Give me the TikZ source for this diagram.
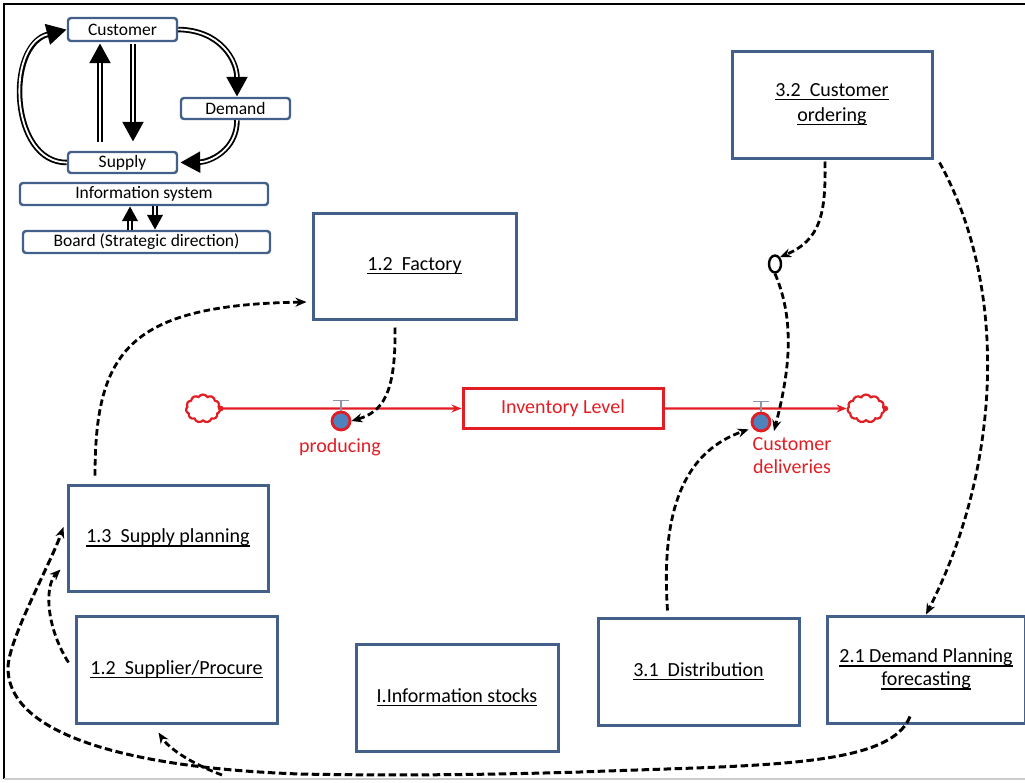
\documentclass[tikz,border=0pt]{standalone}
\usepackage{fontspec}
\setmainfont{Carlito}
\usetikzlibrary{arrows.meta,shapes.symbols,shapes.geometric}
\definecolor{boxblue}{RGB}{66,96,138}
\definecolor{sdred}{RGB}{226,30,36}
\definecolor{valveblue}{RGB}{79,129,189}
\definecolor{tgray}{RGB}{140,150,165}
\newcommand\myul[1]{\leavevmode\setbox0=\hbox{#1}\rlap{\rule[-4pt]{\wd0}{1.7pt}}\box0}
\newcommand\dblarr[2][20]{%
  \draw[line width=5.5pt,-{Triangle[length=#1pt,width=#1pt]}] #2;
  \draw[white,line width=1.8pt,shorten >=#1pt] #2;}
\begin{document}
\begin{tikzpicture}[x=1pt,y=-1pt,
  box/.style={draw=boxblue,line width=3pt,inner sep=0pt,align=center,
    font=\fontsize{20}{24}\selectfont},
  sbox/.style={draw=boxblue,line width=2.4pt,rounded corners=3pt,inner sep=0pt,
    font=\fontsize{17.5}{20}\selectfont},
  dep/.style={line width=2.8pt,dash pattern=on 6.5pt off 3.5pt,
    -{Stealth[length=11pt,width=9pt]}},
  flow/.style={sdred,line width=2.4pt,-{Stealth[length=10pt,width=8pt]}},
  valve/.style={circle,draw=sdred,fill=valveblue,line width=2.8pt,
    minimum size=18pt,inner sep=0pt},
  cloudy/.style={cloud,cloud puffs=11,cloud puff arc=120,aspect=1.25,draw=sdred,
    line width=2.2pt,inner sep=0pt,minimum height=28pt},
  redtext/.style={text=sdred,font=\fontsize{20}{23}\selectfont,align=center,inner sep=0pt}]
\useasboundingbox (0,0) rectangle (1025,782);
\fill[white] (0,0) rectangle (1025,782);
% frame
\draw[black,line width=1.8pt] (1030,4) -- (4,4) -- (4,779);
\draw[gray!40,line width=1.8pt] (4,779) -- (1030,779);

% ---------- small overview diagram ----------
\node[sbox,minimum width=109pt,minimum height=23pt] (cust) at (122.5,29.5) {Customer};
\node[sbox,minimum width=109pt,minimum height=21pt] (dem) at (235.5,108.5) {Demand};
\node[sbox,minimum width=109pt,minimum height=21pt] (sup) at (122.5,162.5) {Supply};
\node[sbox,minimum width=248pt,minimum height=22pt] (isys) at (144,194) {Information system};
\node[sbox,minimum width=247pt,minimum height=22pt] (board) at (146.5,242) {Board (Strategic direction)};

\dblarr{([xshift=-22.5pt,yshift=9pt]sup.north) -- ([xshift=-22.5pt,yshift=-1pt]cust.south)}
\dblarr{([xshift=10.5pt,yshift=-2pt]cust.south) -- ([xshift=10.5pt,yshift=9pt]sup.north)}
\dblarr{(sup.west) .. controls (10,163) and (5,45) .. (cust.west)}
\dblarr{(cust.east) .. controls (220,30) and (237,60) .. ([xshift=1.5pt]dem.north)}
\dblarr{([xshift=1.5pt]dem.south) .. controls (237,150) and (210,162) .. ([xshift=2pt]sup.east)}
\dblarr[15]{([xshift=-16.5pt]board.north) -- ([xshift=-14pt]isys.south)}
\dblarr[15]{([xshift=11pt]isys.south) -- ([xshift=8.5pt]board.north)}

% ---------- main boxes ----------
\node[box,minimum width=200pt,minimum height=107pt,font=\fontsize{20}{25}\selectfont] (c32) at (832,104.5)
  {\myul{3.2\ \ Customer}\\\myul{ordering}};
\node[box,minimum width=203pt,minimum height=106pt] (fac) at (414.5,266) {\myul{1.2\ \ Factory}};
\node[box,minimum width=200pt,minimum height=106pt] (sp13) at (168,538) {\myul{1.3\ \ Supply planning}};
\node[box,minimum width=201pt,minimum height=107pt] (sup12) at (176.5,669.5) {\myul{1.2\ \ Supplier/Procure}};
\node[box,minimum width=202pt,minimum height=107pt] (istock) at (457,697.5) {\myul{I.Information stocks}};
\node[box,minimum width=201pt,minimum height=107pt] (dist) at (698.5,671.5) {\myul{3.1\ \ Distribution}};
\node[box,minimum width=198pt,minimum height=107pt,font=\fontsize{20}{23}\selectfont] (d21) at (926,669.5)
  {\myul{2.1 Demand Planning}\\\myul{forecasting}};

% ---------- stock and flow ----------
\node[cloudy,minimum width=34pt] (lcl) at (203,408.5) {};
\node[cloudy,minimum width=37pt] (rcl) at (866,408.5) {};
\node[draw=sdred,line width=3pt,minimum width=200pt,minimum height=40pt,inner sep=0pt,
  font=\fontsize{20}{24}\selectfont,text=sdred] (inv) at (563,408.5) {Inventory Level};
\draw[flow] (lcl.east) -- (inv.west);
\draw[flow] (inv.east) -- (rcl.west);
\fill[sdred] (lcl.east) circle (2.8pt);
\fill[sdred] (rcl.east) circle (2.8pt);

\node[valve] (pv) at (341,421) {};
\node[valve] (cdv) at (761,422) {};
\draw[tgray,line width=1.5pt] (pv.north) -- ++(0,-10) ++(-8,0) -- ++(16,0);
\draw[tgray,line width=1.5pt] (cdv.north) -- ++(0,-10) ++(-8,0) -- ++(16,0);
\node[redtext] (plbl) at (340,447) {producing};
\node[redtext] (cdlbl) at (792,456) {Customer\\deliveries};

% delay marker
\node[ellipse,draw,line width=2.4pt,minimum width=12pt,minimum height=17pt,inner sep=0pt] (q) at (775,264) {};

% ---------- dashed information links ----------
\draw[dep] ([xshift=-7pt,yshift=-2pt]c32.south) .. controls (826,215) and (820,240) .. (q.north east);
\draw[dep] (q.south) .. controls (795,320) and (790,370) .. ([xshift=13pt,yshift=-9pt]cdv.center);
\draw[dep] ([xshift=6pt,yshift=-3pt]c32.south east) .. controls (1010,290) and (1000,470) .. (d21.north);
\draw[dep] ([xshift=-19.5pt,yshift=-7pt]fac.south) .. controls (396,395) and (382,412) .. (pv.east);
\draw[dep] ([xshift=-73pt,yshift=8pt]sp13.north) .. controls (95,350) and (130,305) .. ([xshift=-5pt,yshift=-36pt]fac.west);
\draw[dep] ([xshift=-31pt,yshift=6pt]dist.north) .. controls (660,500) and (690,450) .. ([xshift=-5pt]cdv.south west);
\draw[dep] ([xshift=-6pt,yshift=7pt]sup12.west) .. controls (45,625) and (45,585) .. ([xshift=-6pt,yshift=23pt]sp13.south west);
\coordinate (jn) at (222,775);
\draw[dep,line width=3pt,dash pattern=on 7.5pt off 3.5pt] ([xshift=-16pt,yshift=8pt]d21.south) .. controls (890,768) and (760,765) .. (580,772)
  .. controls (450,776) and (350,775) .. (300,774)
  .. controls (130,768) and (8,735) .. (8,668)
  .. controls (8,640) and (50,565) .. ([xshift=-3pt,yshift=11pt]sp13.west);
\draw[dep] (jn) .. controls (195,765) and (170,750) .. ([xshift=-18pt,yshift=-8pt]sup12.south);
\end{tikzpicture}
\end{document}
